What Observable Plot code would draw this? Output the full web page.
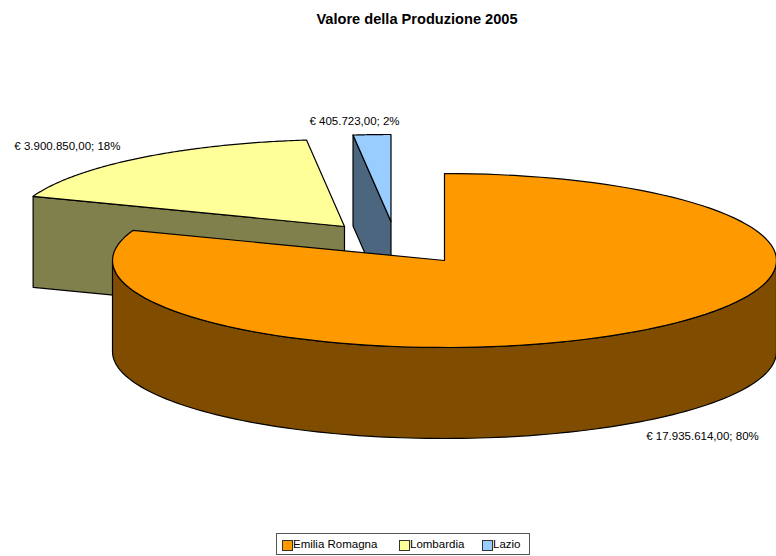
<!DOCTYPE html>
<html>
<head>
<meta charset="utf-8">
<script src="https://cdn.jsdelivr.net/npm/d3@7"></script>
<script src="https://cdn.jsdelivr.net/npm/@observablehq/plot@0.6"></script>
<style>
  html, body { margin: 0; padding: 0; background: #fff; }
  body { width: 776px; height: 556px; overflow: hidden; position: relative; font-family: "Liberation Sans", Arial, sans-serif; }
  #title { height: 28px; padding-top: 12px; box-sizing: border-box; text-align: center; font-weight: bold; font-size: 14.6px; line-height: 15px; color: #000; width: 834px; }
  #chart svg { display: block; }
  #legend { position: absolute; left: 276px; top: 533px; width: 254px; height: 22px; box-sizing: border-box; border: 1.5px solid #555; font-size: 11.5px; color: #000; }
  #legend span.k { position: absolute; top: 6px; width: 9px; height: 9px; border: 1px solid #333; }
  #legend span.t { position: absolute; top: 3px; line-height: 14px; white-space: nowrap; }
</style>
</head>
<body>
<div id="title">Valore della Produzione 2005</div>
<div id="chart"></div>
<div id="legend"></div>
<script>
const regions = ["Emilia Romagna", "Lombardia", "Lazio"];
const values = [17935614, 3900850, 405723];
const valueLabels = ["€ 17.935.614,00", "€ 3.900.850,00", "€ 405.723,00"];
const percentLabels = ["80%", "18%", "2%"];
const topColors = ["#FF9900", "#FFFF99", "#99CCFF"];
const sideColors = ["#804D00", "#80804D", "#4D6680"];

// Layout of the tilted pie
const rx = 332, ry = 87, depth = 91;
const apexes = [[444, 260], [344, 226], [390.5, 221]];      // exploded slice apexes
const labelPlace = [[12, 13, "start"], [-19, -12, "end"], [-17.5, -13, "middle"]];
const legendLeft = [5, 122, 205];

const total = d3.sum(values);
let acc = 0;
const slices = regions.map((name, i) => {
  const a0 = acc / total * 2 * Math.PI;
  acc += values[i];
  const a1 = acc / total * 2 * Math.PI;
  return {name, i, a0, a1, apex: apexes[i]};
});

const rimPoint = (s, a, dy = 0) => ({x: s.apex[0] + rx * Math.sin(a), y: s.apex[1] - ry * Math.cos(a) + dy});
const arcPoints = (s, a0, a1, dy = 0) => d3.range(0, 121).map(k => rimPoint(s, a0 + (a1 - a0) * k / 120, dy));
const apexPoint = (s, dy = 0) => ({x: s.apex[0], y: s.apex[1] + dy});

const topFace = s => [apexPoint(s), ...arcPoints(s, s.a0, s.a1)];
const cutFace = (s, a) => [rimPoint(s, a), apexPoint(s), apexPoint(s, depth), rimPoint(s, a, depth)];
const rimFace = (s, a0, a1) => [...arcPoints(s, a0, a1), ...arcPoints(s, a1, a0, depth)];

const poly = (pts, fill) => Plot.line(pts, {x: "x", y: "y", fill, stroke: "#000", strokeWidth: 1.2, curve: "linear-closed"});

const [emilia, lombardia, lazio] = slices;
const labels = slices.map((s, i) => {
  const mid = (s.a0 + s.a1) / 2;
  const down = Math.cos(mid) < 0 ? depth : 0;
  const p = rimPoint(s, mid, down);
  return {x: p.x + labelPlace[i][0], y: p.y + labelPlace[i][1], anchor: labelPlace[i][2],
          text: `${valueLabels[i]}; ${percentLabels[i]}`};
});

const textMark = anchor => Plot.text(labels.filter(d => d.anchor === anchor), {
  x: "x", y: "y", text: "text", textAnchor: anchor, fontSize: 11.5, fill: "#000"
});

const chart = Plot.plot({
  width: 776,
  height: 500,
  margin: 0,
  style: {background: "#fff", fontFamily: '"Liberation Sans", Arial, sans-serif', fontSize: "11.5px"},
  x: {domain: [0, 776], range: [0, 776], axis: null},
  y: {domain: [28, 528], range: [0, 500], axis: null},
  marks: [
    poly(cutFace(lombardia, lombardia.a0), sideColors[1]),
    poly(topFace(lombardia), topColors[1]),
    poly(cutFace(lazio, lazio.a0), sideColors[2]),
    poly(topFace(lazio), topColors[2]),
    poly(rimFace(emilia, Math.PI / 2, 3 * Math.PI / 2), sideColors[0]),
    poly(topFace(emilia), topColors[0]),
    textMark("start"),
    textMark("end"),
    textMark("middle")
  ]
});
document.getElementById("chart").appendChild(chart);

const legend = document.getElementById("legend");
regions.forEach((name, i) => {
  const k = document.createElement("span");
  k.className = "k";
  k.style.left = legendLeft[i] + "px";
  k.style.background = topColors[i];
  const t = document.createElement("span");
  t.className = "t";
  t.style.left = (legendLeft[i] + 11) + "px";
  t.textContent = name;
  legend.append(k, t);
});
</script>
</body>
</html>
